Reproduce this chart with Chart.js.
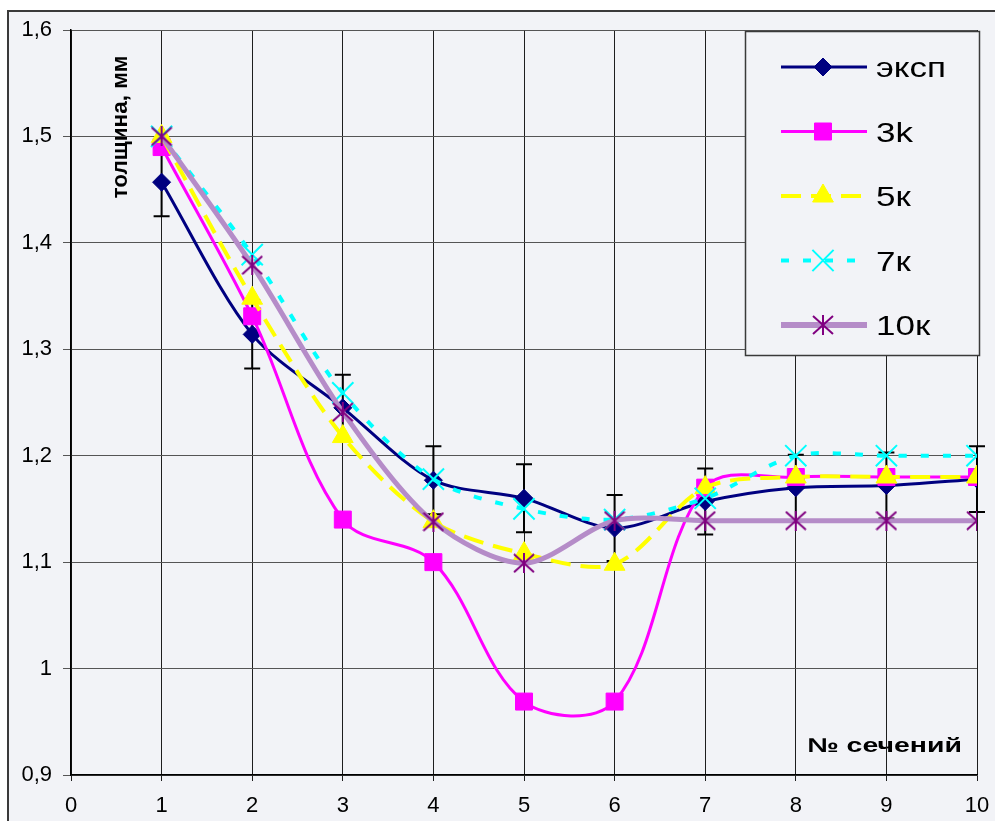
<!DOCTYPE html>
<html>
<head>
<meta charset="utf-8">
<script src="https://cdn.jsdelivr.net/npm/chart.js@4.4.1/dist/chart.umd.min.js"></script>
<style>
  html, body { margin: 0; padding: 0; background: #ffffff; }
  #wrap { width: 995px; height: 821px; position: relative; }
  canvas { display: block; }
</style>
</head>
<body>
<div id="wrap"><canvas id="chart" width="995" height="821"></canvas></div>
<script>
// Section numbers along the plate
const sections = [1, 2, 3, 4, 5, 6, 7, 8, 9, 10];

// Measured thickness and its spread
const expValues = [1.457, 1.314, 1.245, 1.177, 1.160, 1.132, 1.157, 1.170, 1.172, 1.178];
const expError  = [0.032, 0.032, 0.031, 0.032, 0.032, 0.031, 0.031, 0.031, 0.031, 0.031];

// Computed thickness for different numbers of passes
const k3Values  = [1.490, 1.331, 1.140, 1.100, 0.969, 0.969, 1.170, 1.180, 1.180, 1.180];
const k5Values  = [1.500, 1.348, 1.218, 1.138, 1.108, 1.098, 1.170, 1.180, 1.180, 1.180];
const k7Values  = [1.500, 1.389, 1.259, 1.178, 1.150, 1.140, 1.160, 1.200, 1.200, 1.200];
const k10Values = [1.500, 1.379, 1.241, 1.138, 1.099, 1.139, 1.139, 1.139, 1.139, 1.139];

const seriesNames = ['эксп', '3k', '5к', '7к', '10к'];

// Axis ticks and their captions
const xTicks = [0, 1, 2, 3, 4, 5, 6, 7, 8, 9, 10];
const xTickLabels = ['0', '1', '2', '3', '4', '5', '6', '7', '8', '9', '10'];
const yTicks = [0.9, 1.0, 1.1, 1.2, 1.3, 1.4, 1.5, 1.6];
const yTickLabels = ['0,9', '1', '1,1', '1,2', '1,3', '1,4', '1,5', '1,6'];

const yTitle = 'толщина, мм';
const xTitle = '№ сечений';

const FONT = '"Liberation Sans", Arial, sans-serif';
const PANEL = '#f2f3f7';

// Asterisk marker: a cross with a vertical bar
const starMarker = document.createElement('canvas');
starMarker.width = 22;
starMarker.height = 20;
(function () {
  const g = starMarker.getContext('2d');
  g.strokeStyle = '#800080';
  g.lineWidth = 2;
  g.beginPath();
  g.moveTo(1, 1); g.lineTo(21, 19);
  g.moveTo(21, 1); g.lineTo(1, 19);
  g.moveTo(11, 0); g.lineTo(11, 20);
  g.stroke();
})();

const toPoints = vals => sections.map((x, i) => ({ x: x, y: vals[i] }));

const datasets = [
  {
    label: seriesNames[0], data: toPoints(expValues), order: 4, tension: 0.3,
    borderColor: '#000080', borderWidth: 3,
    pointStyle: 'rectRot', pointRadius: 9,
    pointBackgroundColor: '#000080', pointBorderColor: '#000080', pointBorderWidth: 1
  },
  {
    label: seriesNames[1], data: toPoints(k3Values), order: 3, tension: 0.35,
    borderColor: '#ff00ff', borderWidth: 3,
    pointStyle: 'rect', pointRadius: 12,
    pointBackgroundColor: '#ff00ff', pointBorderColor: '#ff00ff', pointBorderWidth: 1
  },
  {
    label: seriesNames[2], data: toPoints(k5Values), order: 2, tension: 0.3,
    borderColor: '#ffff00', borderWidth: 4, borderDash: [20, 10],
    pointStyle: 'triangle', pointRadius: 12,
    pointBackgroundColor: '#ffff00', pointBorderColor: '#ffff00', pointBorderWidth: 1
  },
  {
    label: seriesNames[3], data: toPoints(k7Values), order: 1, tension: 0.3,
    borderColor: '#00ffff', borderWidth: 4, borderDash: [8, 14],
    pointStyle: 'crossRot', pointRadius: 15,
    pointBackgroundColor: '#00ffff', pointBorderColor: '#00ffff', pointBorderWidth: 2
  },
  {
    label: seriesNames[4], data: toPoints(k10Values), order: 0, tension: 0.3,
    borderColor: '#b58cc8', borderWidth: 5,
    pointStyle: starMarker, pointRadius: 10,
    pointBackgroundColor: '#800080', pointBorderColor: '#800080', pointBorderWidth: 2
  }
];

// Panel background, outer frame and axis captions
const framePlugin = {
  id: 'frame',
  beforeDraw(chart) {
    const ctx = chart.ctx;
    ctx.save();
    ctx.fillStyle = '#ffffff';
    ctx.fillRect(0, 0, chart.width, chart.height);
    ctx.fillStyle = PANEL;
    ctx.fillRect(8, 11, chart.width - 8, chart.height - 11);
    ctx.strokeStyle = '#3a3a3a';
    ctx.lineWidth = 2;
    ctx.beginPath();
    ctx.moveTo(8, chart.height);
    ctx.lineTo(8, 11);
    ctx.lineTo(chart.width, 11);
    ctx.stroke();

    ctx.fillStyle = '#000000';
    // vertical caption
    ctx.font = 'bold 22px ' + FONT;
    ctx.textBaseline = 'middle';
    ctx.textAlign = 'center';
    let w = ctx.measureText(yTitle).width;
    ctx.translate(120.5, 127);
    ctx.rotate(-Math.PI / 2);
    ctx.scale(143 / w, 1);
    ctx.fillText(yTitle, 0, 0);
    ctx.restore();

    ctx.save();
    ctx.fillStyle = '#000000';
    ctx.font = 'bold 20px ' + FONT;
    ctx.textBaseline = 'alphabetic';
    ctx.textAlign = 'left';
    w = ctx.measureText(xTitle).width;
    ctx.translate(807, 752);
    ctx.scale(155 / w, 1);
    ctx.fillText(xTitle, 0, 0);
    ctx.restore();
  }
};

// Error bars of the measured series, drawn beneath its markers
const errorBarPlugin = {
  id: 'errorBars',
  beforeDatasetDraw(chart, args) {
    if (args.index !== 0) return;
    const ctx = chart.ctx;
    const xs = chart.scales.x, ys = chart.scales.y;
    ctx.save();
    ctx.strokeStyle = '#000000';
    ctx.lineWidth = 2;
    sections.forEach((s, i) => {
      const px = xs.getPixelForValue(s);
      const top = ys.getPixelForValue(expValues[i] + expError[i]);
      const bot = ys.getPixelForValue(expValues[i] - expError[i]);
      ctx.beginPath();
      ctx.moveTo(px, top); ctx.lineTo(px, bot);
      ctx.moveTo(px - 8, top); ctx.lineTo(px + 8, top);
      ctx.moveTo(px - 8, bot); ctx.lineTo(px + 8, bot);
      ctx.stroke();
    });
    ctx.restore();
  }
};

// Boxed legend with line samples and markers
const legendPlugin = {
  id: 'boxLegend',
  afterDraw(chart) {
    const ctx = chart.ctx;
    const box = { x: 745, y: 31, w: 234, h: 324 };
    ctx.save();
    ctx.fillStyle = PANEL;
    ctx.fillRect(box.x, box.y, box.w, box.h);
    ctx.strokeStyle = '#3a3a3a';
    ctx.lineWidth = 1.5;
    ctx.strokeRect(box.x + 0.5, box.y + 0.5, box.w, box.h);

    datasets.forEach((ds, i) => {
      const y = 67 + i * 64.5;
      ctx.save();
      ctx.strokeStyle = ds.borderColor;
      ctx.lineWidth = i === 4 ? 6 : ds.borderWidth;
      ctx.setLineDash(ds.borderDash || []);
      ctx.beginPath();
      ctx.moveTo(781, y);
      ctx.lineTo(867, y);
      ctx.stroke();
      ctx.restore();

      ctx.save();
      ctx.fillStyle = ds.pointBackgroundColor;
      ctx.strokeStyle = ds.pointBorderColor;
      ctx.lineWidth = ds.pointBorderWidth;
      ctx.setLineDash([]);
      Chart.helpers.drawPoint(ctx, {
        pointStyle: ds.pointStyle, radius: ds.pointRadius, rotation: 0,
        borderWidth: ds.pointBorderWidth
      }, 823, y);
      ctx.restore();

      ctx.save();
      ctx.fillStyle = '#000000';
      ctx.font = '28px ' + FONT;
      ctx.textBaseline = 'alphabetic';
      ctx.textAlign = 'left';
      ctx.translate(876, y + 10);
      ctx.scale(1.25, 1);
      ctx.fillText(ds.label, 0, 0);
      ctx.restore();
    });
    ctx.restore();
  }
};

new Chart(document.getElementById('chart'), {
  type: 'line',
  data: { datasets: datasets },
  options: {
    responsive: false,
    animation: false,
    devicePixelRatio: 1,
    layout: { padding: { top: 30, right: 18, left: 0, bottom: 0 } },
    elements: {
      line: { fill: false, capBezierPoints: true }
    },
    plugins: {
      legend: { display: false },
      tooltip: { enabled: false }
    },
    scales: {
      x: {
        type: 'linear', min: 0, max: 10,
        afterBuildTicks: s => { s.ticks = xTicks.map(v => ({ value: v })); },
        afterFit: s => { s.height = 46; s.paddingLeft = 0; s.paddingRight = 0; },
        grid: { color: '#1e1e1e', lineWidth: 1, tickLength: 6 },
        border: { color: '#000000', width: 1.5 },
        ticks: {
          color: '#000000', padding: 12, maxRotation: 0, autoSkip: false,
          font: { family: FONT, size: 22 },
          callback: (v, i) => xTickLabels[i]
        }
      },
      y: {
        type: 'linear', min: 0.9, max: 1.6,
        afterBuildTicks: s => { s.ticks = yTicks.map(v => ({ value: v })); },
        afterFit: s => { s.width = 71; s.paddingTop = 0; s.paddingBottom = 0; },
        grid: { color: '#555555', lineWidth: 1, tickLength: 8 },
        border: { color: '#000000', width: 1.5 },
        ticks: {
          color: '#000000', padding: 11, autoSkip: false,
          font: { family: FONT, size: 22 },
          callback: (v, i) => yTickLabels[i]
        }
      }
    }
  },
  plugins: [framePlugin, errorBarPlugin, legendPlugin]
});
</script>
</body>
</html>
